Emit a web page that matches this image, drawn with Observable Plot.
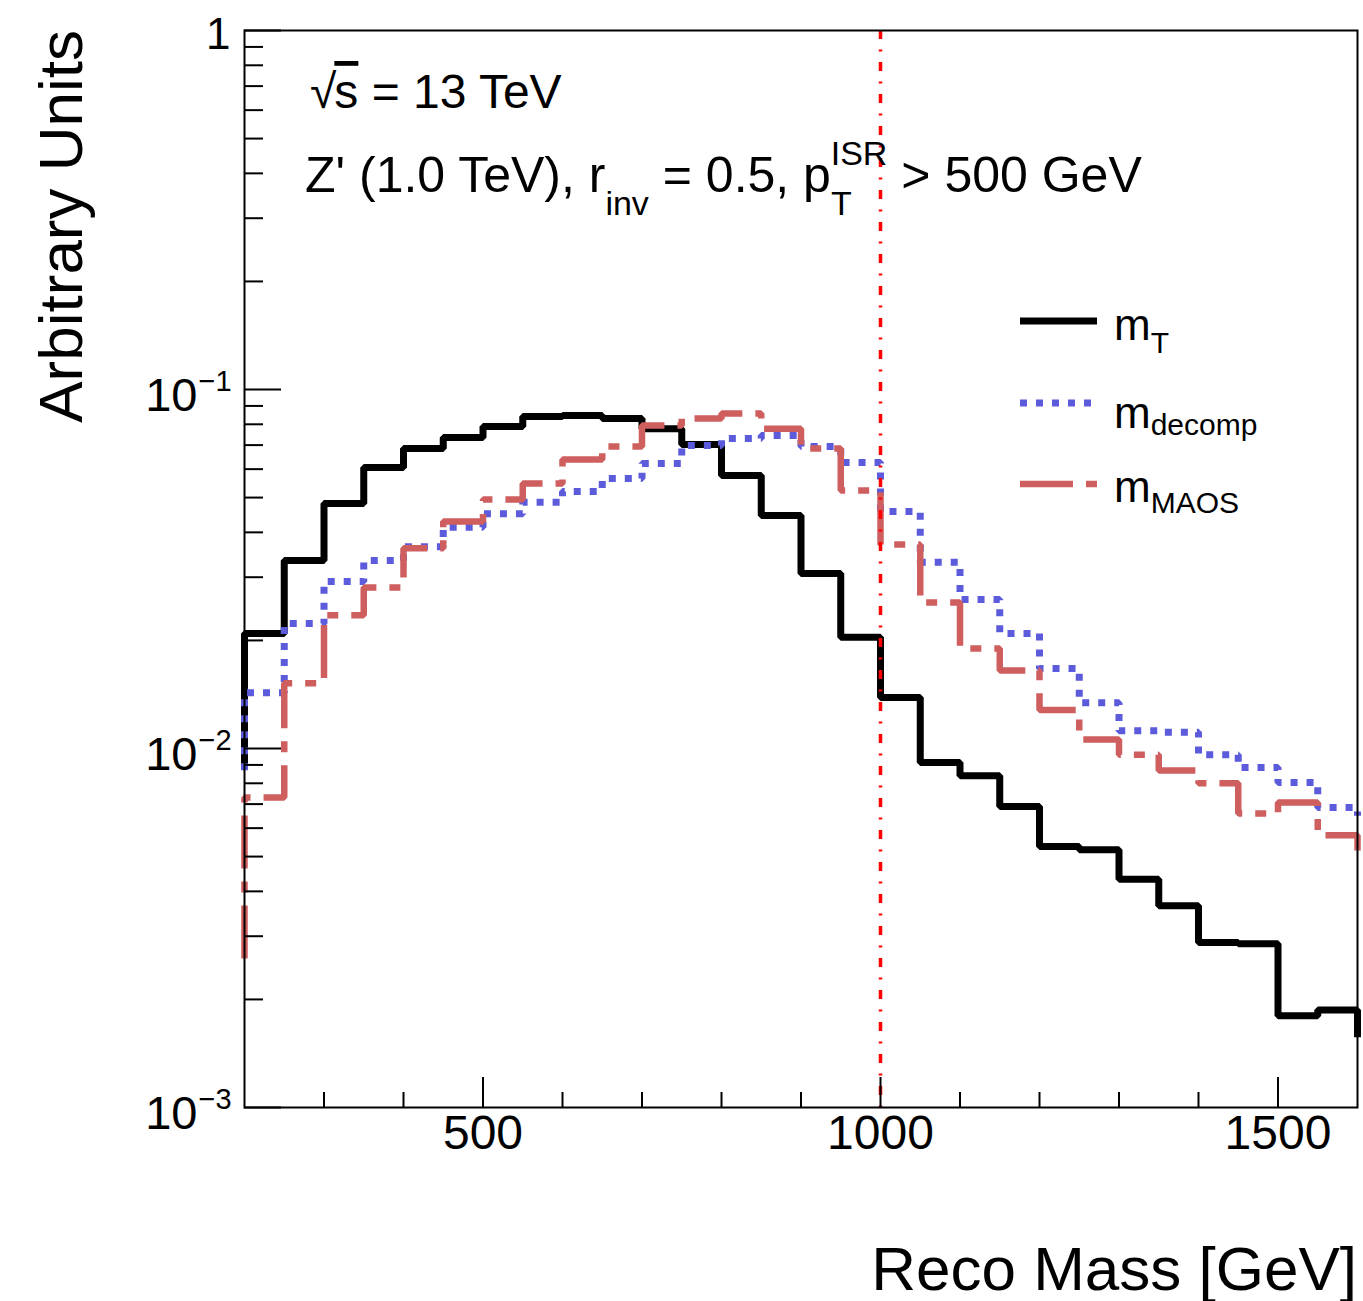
<!DOCTYPE html>
<html>
<head>
<meta charset="utf-8">
<script src="https://cdn.jsdelivr.net/npm/d3@7"></script>
<script src="https://cdn.jsdelivr.net/npm/@observablehq/plot@0.6"></script>
<style>
  html, body { margin: 0; padding: 0; background: #fff; }
  #chart svg { display: block; }
</style>
</head>
<body>
<div id="chart"></div>
<script>
// ---- Data ----
// Bin low edges of the 50 GeV bins shown, plus the closing edge at 1600
const binEdges = [200, 250, 300, 350, 400, 450, 500, 550, 600, 650, 700, 750, 800, 850, 900, 950,
                  1000, 1050, 1100, 1150, 1200, 1250, 1300, 1350, 1400, 1450, 1500, 1550, 1600];
// Values: [bin below 200, 28 bins 200..1600, bin above 1600]
const mT = [0.0089, 0.0209, 0.0334, 0.0481, 0.0606, 0.0685, 0.0735, 0.0789, 0.0841, 0.0846, 0.0830,
            0.0778, 0.0703, 0.0576, 0.0446, 0.0307, 0.0204, 0.01387, 0.00914, 0.0084, 0.00689,
            0.00533, 0.00522, 0.00432, 0.00365, 0.00288, 0.00286, 0.0018, 0.00187, 0.00157];
const mDecomp = [0.0087, 0.0143, 0.0223, 0.0292, 0.0334, 0.0365, 0.0413, 0.0451, 0.0485, 0.052, 0.0565,
                 0.0622, 0.0698, 0.073, 0.0745, 0.0694, 0.0626, 0.0457, 0.033, 0.026, 0.0209, 0.0167,
                 0.0134, 0.0112, 0.0111, 0.0096, 0.00885, 0.00804, 0.00685, 0.0065];
const mMAOS = [0.0026, 0.0073, 0.0152, 0.0235, 0.0281, 0.0361, 0.0429, 0.0494, 0.0547, 0.0638, 0.0694,
               0.0794, 0.083, 0.0858, 0.0778, 0.0685, 0.0523, 0.037, 0.0255, 0.019, 0.0165, 0.0128,
               0.0106, 0.0096, 0.00869, 0.0080, 0.00659, 0.00707, 0.00573, 0.0052];
const zPrimeMass = [1000];

const xMajor = [500, 1000, 1500];
const xMinor = [300, 400, 600, 700, 800, 900, 1100, 1200, 1300, 1400];
const yMajor = [1, 0.1, 0.01, 0.001];
const yMinor = [0.002, 0.003, 0.004, 0.005, 0.006, 0.007, 0.008, 0.009,
                0.02, 0.03, 0.04, 0.05, 0.06, 0.07, 0.08, 0.09,
                0.2, 0.3, 0.4, 0.5, 0.6, 0.7, 0.8, 0.9];
const yExpLabels = [{v: 0.1, e: "\u22121"}, {v: 0.01, e: "\u22122"}, {v: 0.001, e: "\u22123"}];

// ---- Layout ----
const W = 1363, H = 1301;
const mL = 244, mR = 6, mTop = 30, mB = 194;
const innerW = W - mL - mR;
const innerH = H - mTop - mB;

// Build histogram outline points (step-after)
function steps(vals) {
  const n = binEdges.length;
  const pts = [{x: binEdges[0], y: vals[0]}];
  for (let i = 1; i < vals.length - 1; i++) pts.push({x: binEdges[i - 1], y: vals[i]});
  pts.push({x: binEdges[n - 1], y: vals[vals.length - 2]});
  pts.push({x: binEdges[n - 1], y: vals[vals.length - 1]});
  return pts;
}

const black = "#000000", blue = "#5b5bdc", red = "#cf5f5f";
const FONT = "'Liberation Sans', Arial, Helvetica, sans-serif";

const chart = Plot.plot({
  width: W, height: H,
  marginLeft: mL, marginRight: mR, marginTop: mTop, marginBottom: mB,
  style: {fontFamily: FONT, background: "white", color: "black", overflow: "visible"},
  x: {domain: [200, 1600], axis: null},
  y: {type: "log", domain: [0.001, 1], axis: null},
  marks: [
    Plot.line(steps(mT), {x: "x", y: "y", curve: "step-after", stroke: black, strokeWidth: 7,
      strokeLinejoin: "miter", strokeLinecap: "butt"}),
    Plot.line(steps(mDecomp), {x: "x", y: "y", curve: "step-after", stroke: blue, strokeWidth: 7,
      strokeDasharray: "7,9", strokeLinejoin: "miter", strokeLinecap: "butt"}),
    Plot.line(steps(mMAOS), {x: "x", y: "y", curve: "step-after", stroke: red, strokeWidth: 6.5,
      strokeDasharray: "53,13,11,13", strokeLinejoin: "miter", strokeLinecap: "butt"}),
    Plot.ruleX(zPrimeMass, {x: d => d, stroke: "#ff0000", strokeWidth: 3.5, strokeDasharray: "9,10.5,2,10.5"}),
    // ticks (inside the frame)
    Plot.ruleX(xMajor, {x: d => d, insetTop: innerH - 30, stroke: black, strokeWidth: 2}),
    Plot.ruleX(xMinor, {x: d => d, insetTop: innerH - 15, stroke: black, strokeWidth: 2}),
    Plot.ruleY(yMajor, {y: d => d, insetRight: innerW - 37, stroke: black, strokeWidth: 2}),
    Plot.ruleY(yMinor, {y: d => d, insetRight: innerW - 19, stroke: black, strokeWidth: 2}),
    Plot.frame({stroke: black, strokeWidth: 2}),
    // x tick labels
    Plot.text(xMajor, {x: d => d, frameAnchor: "bottom", dy: 41, text: d => String(d),
      fontSize: 48, fill: black}),
    // y tick labels
    Plot.text([1], {y: d => d, frameAnchor: "left", dx: -14, dy: 4, text: d => "1",
      textAnchor: "end", fontSize: 44, fill: black}),
    Plot.text(yExpLabels, {y: "v", frameAnchor: "left", dx: -47, dy: 6, text: d => "10",
      textAnchor: "end", fontSize: 47, fill: black}),
    Plot.text(yExpLabels, {y: "v", frameAnchor: "left", dx: -46, dy: -8, text: "e",
      textAnchor: "start", fontSize: 29, fill: black})
  ]
});

document.getElementById("chart").appendChild(chart);

// ---- Text annotations with sub/superscripts ----
const svg = d3.select(chart);
function rich(x, y, size, parts, extra = {}) {
  const t = svg.append("text")
    .attr("x", x).attr("y", y)
    .attr("font-size", size)
    .attr("font-family", FONT)
    .attr("fill", "black")
    .attr("text-anchor", extra.anchor || "start")
    .style("white-space", "pre");
  if (extra.transform) t.attr("transform", extra.transform).attr("x", 0).attr("y", 0);
  let cur = 0;
  for (const p of parts) {
    const ts = t.append("tspan").text(p.t);
    if (p.size) ts.attr("font-size", p.size);
    const shift = p.shift || 0;
    if (shift - cur !== 0) ts.attr("dy", shift - cur);
    cur = shift;
    if (p.dx) ts.attr("dx", p.dx);
    if (p.style) ts.attr("style", p.style);
  }
  return t;
}

// axis titles
rich(0, 0, 62, [{t: "Reco Mass [GeV]"}], {anchor: "end", transform: "translate(1357,1290)"});
rich(0, 0, 62, [{t: "Arbitrary Units"}], {anchor: "end", transform: "translate(82,30) rotate(-90)"});

// plot annotations
rich(310, 108, 48, [
  {t: "\u221A"},
  {t: "s", dx: -2, style: "text-decoration: overline"},
  {t: " = 13 TeV"}
]);
rich(305, 192, 50, [
  {t: "Z' (1.0 TeV), r"},
  {t: "inv", size: 34, shift: 23},
  {t: " = 0.5, p", shift: 0},
  {t: "T", size: 34, shift: 23},
  {t: "ISR", size: 34, shift: -27, dx: -21},
  {t: " > 500 GeV", shift: 0}
]);

// legend
const legendItems = [
  {y: 321, color: black, width: 7, dash: null, base: 340, sub: "T", subShift: 13},
  {y: 403, color: blue, width: 7, dash: "7,9", base: 428, sub: "decomp", subShift: 7},
  {y: 484, color: red, width: 6.5, dash: "53,13,11,13", base: 502, sub: "MAOS", subShift: 11}
];
for (const it of legendItems) {
  const ln = svg.append("line")
    .attr("x1", 1020).attr("x2", 1097).attr("y1", it.y).attr("y2", it.y)
    .attr("stroke", it.color).attr("stroke-width", it.width);
  if (it.dash) ln.attr("stroke-dasharray", it.dash);
  rich(1114, it.base, 44, [{t: "m"}, {t: it.sub, size: 30, shift: it.subShift}]);
}
</script>
</body>
</html>
